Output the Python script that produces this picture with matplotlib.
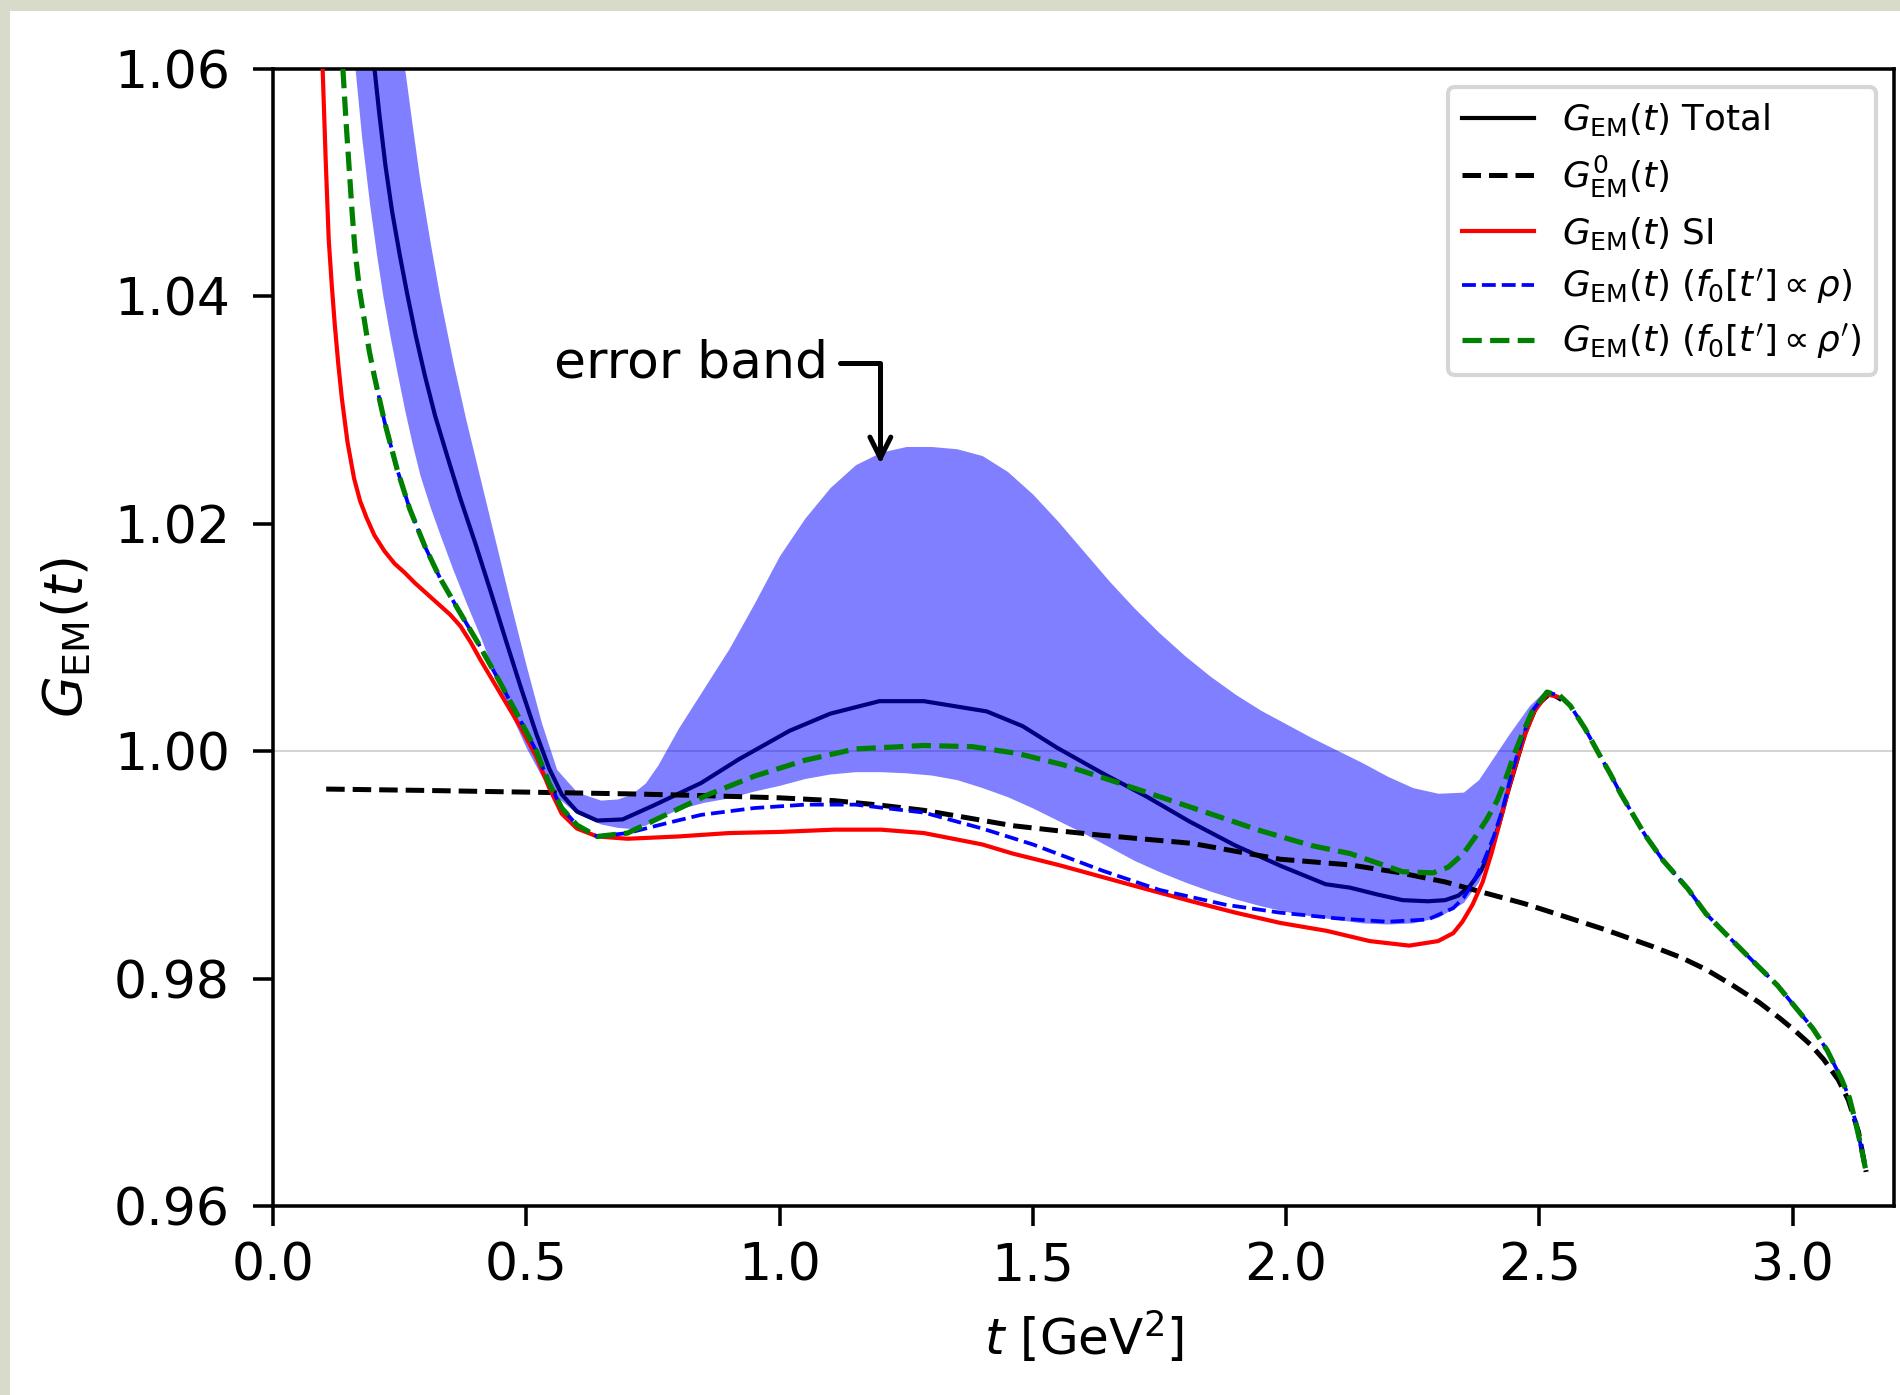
import numpy as np
import matplotlib.pyplot as plt
from matplotlib.patches import Rectangle

# values (t in GeV^2)
t_total = [0.198, 0.210, 0.222, 0.235, 0.250, 0.265, 0.282, 0.300, 0.320, 0.345, 0.370, 0.400,
           0.430, 0.460, 0.490, 0.520, 0.545, 0.570, 0.600, 0.640, 0.690, 0.750, 0.845, 0.920,
           1.020, 1.100, 1.197, 1.285, 1.409, 1.480, 1.548, 1.640, 1.725, 1.810, 1.900, 1.990,
           2.078, 2.126, 2.180, 2.230, 2.280, 2.314, 2.340, 2.362, 2.385, 2.403, 2.420, 2.437,
           2.455, 2.472, 2.495, 2.522, 2.540]
g_total = [1.0610, 1.0560, 1.0515, 1.0475, 1.0437, 1.0402, 1.0365, 1.0330, 1.0295, 1.0258, 1.0222, 1.0182,
           1.0140, 1.0097, 1.0055, 1.0015, 0.9985, 0.9962, 0.9947, 0.9939, 0.9940, 0.9952, 0.9972, 0.9993,
           1.0018, 1.0033, 1.0044, 1.0044, 1.0035, 1.0022, 1.0003, 0.9980, 0.9960, 0.9938, 0.9917, 0.9899,
           0.9883, 0.9880, 0.9874, 0.9869, 0.9868, 0.9869, 0.9873, 0.9881, 0.9895, 0.9912, 0.9935, 0.9963,
           0.9990, 1.0016, 1.0040, 1.0051, 1.0046]

t_g0 = [0.105, 0.300, 0.500, 0.700, 0.845, 1.000, 1.108, 1.200, 1.285, 1.370, 1.460, 1.550,
        1.637, 1.725, 1.813, 1.900, 1.988, 2.126, 2.220, 2.314, 2.392, 2.470, 2.547, 2.630,
        2.723, 2.780, 2.829, 2.880, 2.934, 2.975, 3.005, 3.035, 3.061, 3.090, 3.110, 3.130,
        3.145]
g_g0 = [0.99667, 0.99655, 0.99640, 0.99625, 0.99610, 0.99590, 0.99565, 0.99525, 0.99480, 0.99415, 0.99345, 0.99300,
        0.99260, 0.99225, 0.99190, 0.99120, 0.99050, 0.99000, 0.98935, 0.98850, 0.98754, 0.98660, 0.98550, 0.98430,
        0.98283, 0.98185, 0.98080, 0.97945, 0.97790, 0.97650, 0.97540, 0.97420, 0.97290, 0.97110, 0.96930, 0.96650,
        0.96300]

t_si = [0.098, 0.104, 0.110, 0.116, 0.122, 0.129, 0.136, 0.147, 0.160, 0.172, 0.185, 0.200,
        0.220, 0.240, 0.260, 0.280, 0.305, 0.330, 0.350, 0.370, 0.390, 0.410, 0.430, 0.450,
        0.470, 0.490, 0.520, 0.545, 0.570, 0.600, 0.640, 0.700, 0.800, 0.900, 1.000, 1.108,
        1.200, 1.285, 1.400, 1.460, 1.550, 1.640, 1.730, 1.813, 1.900, 1.988, 2.080, 2.165,
        2.243, 2.300, 2.330, 2.348, 2.368, 2.388, 2.406, 2.424, 2.440, 2.457, 2.473, 2.490,
        2.515, 2.535]
g_si = [1.0600, 1.0520, 1.0450, 1.0410, 1.0375, 1.0340, 1.0310, 1.0272, 1.0240, 1.0220, 1.0205, 1.0190,
        1.0176, 1.0165, 1.0157, 1.0148, 1.0138, 1.0128, 1.0120, 1.0110, 1.0096, 1.0080, 1.0065, 1.0050,
        1.0035, 1.0020, 0.9995, 0.9968, 0.9945, 0.9932, 0.9925, 0.9923, 0.9925, 0.9928, 0.9929, 0.9931,
        0.9931, 0.9928, 0.9918, 0.9910, 0.9900, 0.9889, 0.9878, 0.9868, 0.9858, 0.9849, 0.9842, 0.9833,
        0.9829, 0.9833, 0.9840, 0.9850, 0.9865, 0.9885, 0.9911, 0.9941, 0.9968, 0.9994, 1.0016, 1.0035,
        1.0050, 1.0048]

t_rho = [0.200, 0.220, 0.245, 0.270, 0.300, 0.330, 0.365, 0.405, 0.445, 0.485, 0.520, 0.545,
         0.570, 0.600, 0.640, 0.700, 0.780, 0.845, 0.950, 1.050, 1.150, 1.285, 1.400, 1.500,
         1.637, 1.750, 1.880, 1.988, 2.100, 2.200, 2.280, 2.330, 2.350, 2.370, 2.390, 2.410,
         2.428, 2.445, 2.465, 2.485, 2.515]
g_rho = [1.0330, 1.0290, 1.0248, 1.0213, 1.0180, 1.0152, 1.0125, 1.0095, 1.0063, 1.0030, 1.0000, 0.9972,
         0.9950, 0.9935, 0.9925, 0.9928, 0.9937, 0.9944, 0.9950, 0.9953, 0.9953, 0.9946, 0.9932, 0.9918,
         0.9895, 0.9878, 0.9865, 0.9858, 0.9853, 0.9850, 0.9852, 0.9862, 0.9871, 0.9885, 0.9903, 0.9925,
         0.9950, 0.9980, 1.0010, 1.0035, 1.0052]

t_rhop = [0.138, 0.144, 0.150, 0.156, 0.162, 0.171, 0.180, 0.190, 0.200, 0.220, 0.245, 0.270,
          0.300, 0.330, 0.365, 0.405, 0.445, 0.485, 0.520, 0.545, 0.570, 0.600, 0.640, 0.700,
          0.780, 0.860, 0.950, 1.050, 1.150, 1.285, 1.380, 1.470, 1.560, 1.650, 1.750, 1.850,
          1.950, 2.050, 2.126, 2.230, 2.290, 2.320, 2.350, 2.374, 2.396, 2.417, 2.433, 2.450,
          2.468, 2.486, 2.515]
g_rhop = [1.0600, 1.0555, 1.0515, 1.0475, 1.0440, 1.0405, 1.0380, 1.0352, 1.0330, 1.0290, 1.0248, 1.0213,
          1.0180, 1.0152, 1.0125, 1.0095, 1.0063, 1.0030, 1.0000, 0.9972, 0.9950, 0.9935, 0.9925, 0.9928,
          0.9945, 0.9962, 0.9978, 0.9992, 1.0002, 1.0005, 1.0004, 0.9998, 0.9988, 0.9975, 0.9960, 0.9945,
          0.9930, 0.9917, 0.9910, 0.9894, 0.9893, 0.9898, 0.9910, 0.9925, 0.9940, 0.9957, 0.9975, 0.9997,
          1.0017, 1.0035, 1.0052]

# common tail of both f0 variants after the peak
t_tail = [2.522, 2.540, 2.561, 2.590, 2.617, 2.640, 2.660, 2.685, 2.709, 2.744, 2.793, 2.829,
          2.864, 2.920, 2.970, 3.005, 3.040, 3.068, 3.096, 3.112, 3.124, 3.135, 3.145]
g_tail = [1.0051, 1.0049, 1.0040, 1.0020, 0.9998, 0.9980, 0.9963, 0.9944, 0.9926, 0.9904, 0.9879, 0.9857,
          0.9841, 0.9816, 0.9794, 0.9775, 0.9756, 0.9737, 0.9712, 0.9695, 0.9674, 0.9652, 0.9630]

# error band around the total
t_band = [0.162, 0.175, 0.191, 0.205, 0.217, 0.231, 0.245, 0.260, 0.275, 0.290, 0.310, 0.330,
          0.355, 0.380, 0.410, 0.440, 0.470, 0.500, 0.530, 0.560, 0.600, 0.647, 0.680, 0.707,
          0.735, 0.760, 0.800, 0.850, 0.900, 0.950, 1.000, 1.050, 1.100, 1.150, 1.200, 1.250,
          1.300, 1.350, 1.400, 1.450, 1.500, 1.550, 1.600, 1.650, 1.700, 1.750, 1.800, 1.850,
          1.900, 1.950, 2.000, 2.050, 2.100, 2.150, 2.200, 2.250, 2.300, 2.350, 2.380, 2.410,
          2.440, 2.480, 2.510, 2.540]
band_lo = [1.0600, 1.0540, 1.0480, 1.0435, 1.0400, 1.0365, 1.0333, 1.0300, 1.0270, 1.0243, 1.0215, 1.0190,
           1.0160, 1.0132, 1.0100, 1.0065, 1.0032, 1.0003, 0.9978, 0.9960, 0.9945, 0.9936, 0.9933, 0.9932,
           0.9935, 0.9941, 0.9949, 0.9955, 0.9959, 0.9965, 0.9970, 0.9976, 0.9980, 0.9982, 0.9982, 0.9981,
           0.9979, 0.9975, 0.9968, 0.9960, 0.9950, 0.9939, 0.9928, 0.9916, 0.9904, 0.9894, 0.9885, 0.9877,
           0.9870, 0.9864, 0.9859, 0.9855, 0.9852, 0.9849, 0.9848, 0.9849, 0.9854, 0.9867, 0.9885, 0.9920,
           0.9970, 1.0025, 1.0050, 1.0045]
band_hi = [1.0950, 1.0900, 1.0840, 1.0780, 1.0730, 1.0680, 1.0640, 1.0600, 1.0550, 1.0502, 1.0448, 1.0398,
           1.0343, 1.0293, 1.0238, 1.0183, 1.0128, 1.0075, 1.0025, 0.9984, 0.9964, 0.9957, 0.9958, 0.9962,
           0.9972, 0.9988, 1.0020, 1.0055, 1.0090, 1.0130, 1.0172, 1.0205, 1.0232, 1.0252, 1.0263, 1.0268,
           1.0268, 1.0266, 1.0260, 1.0246, 1.0226, 1.0202, 1.0176, 1.0150, 1.0126, 1.0104, 1.0084, 1.0066,
           1.0050, 1.0036, 1.0024, 1.0012, 1.0001, 0.9990, 0.9978, 0.9968, 0.9963, 0.9964, 0.9975, 0.9995,
           1.0015, 1.0040, 1.0053, 1.0048]

labels = [r'$G_{\rm EM}(t)$ Total',
          r'$G^{0}_{\rm EM}(t)$',
          r'$G_{\rm EM}(t)$ SI',
          r"$G_{\rm EM}(t)$ $(f_0[t'] \propto \rho)$",
          r"$G_{\rm EM}(t)$ $(f_0[t'] \propto \rho')$"]

fig = plt.figure(figsize=(1900 / 300, 1395 / 300), dpi=300)
fig.patch.set_facecolor('#d8dbc9')
fig.add_artist(Rectangle((10 / 1900, 0), 1, 1 - 11 / 1395, transform=fig.transFigure,
                         facecolor='white', edgecolor='none', zorder=0))
ax = fig.add_axes([273 / 1900, 1 - 1206 / 1395, (1894 - 273) / 1900, (1206 - 69) / 1395])

ax.axhline(1.0, color='#d4d4d4', lw=0.5, zorder=1)
ax.plot(t_total, g_total, color='black', lw=1.0, label=labels[0], zorder=2)
ax.fill_between(t_band, band_lo, band_hi, color='blue', alpha=0.5, lw=0, zorder=2.5)
ax.plot(t_g0, g_g0, color='black', ls='--', lw=1.2, label=labels[1], zorder=3)
ax.plot(t_si, g_si, color='red', lw=1.0, label=labels[2], zorder=3)
ax.plot(t_rho + t_tail, g_rho + g_tail, color='blue', ls='--', lw=0.9, label=labels[3], zorder=3.1)
ax.plot(t_rhop + t_tail, g_rhop + g_tail, color='green', ls='--', lw=1.25, label=labels[4], zorder=3.2)

ax.annotate('error band', xy=(1.199, 1.0253), xytext=(1.095, 1.0341),
            ha='right', va='center', fontsize=12.5,
            arrowprops=dict(arrowstyle='->', connectionstyle='angle,angleA=0,angleB=90,rad=0',
                            color='black', lw=1.2, shrinkA=1, shrinkB=0))

ax.set_xlim(0, 3.2)
ax.set_ylim(0.96, 1.06)
ax.set_xticks(np.arange(0, 3.01, 0.5))
ax.set_yticks(np.arange(0.96, 1.061, 0.02))
ax.set_yticklabels(['%.2f' % v for v in np.arange(0.96, 1.061, 0.02)])
ax.tick_params(labelsize=12.5, length=4.8, width=0.85)
ax.tick_params(axis='x', pad=3.8)
ax.tick_params(axis='y', pad=5.5)
for s in ax.spines.values():
    s.set_linewidth(0.85)

ax.set_xlabel(r'$t$ [GeV$^2$]', fontsize=12, labelpad=4)
ax.set_ylabel(r'$G_{\rm EM}(t)$', fontsize=13, labelpad=5)
ax.legend(loc='upper right', fontsize=8.6, labelspacing=0.42)

fig.savefig('out.png', dpi=300, facecolor=fig.get_facecolor())
